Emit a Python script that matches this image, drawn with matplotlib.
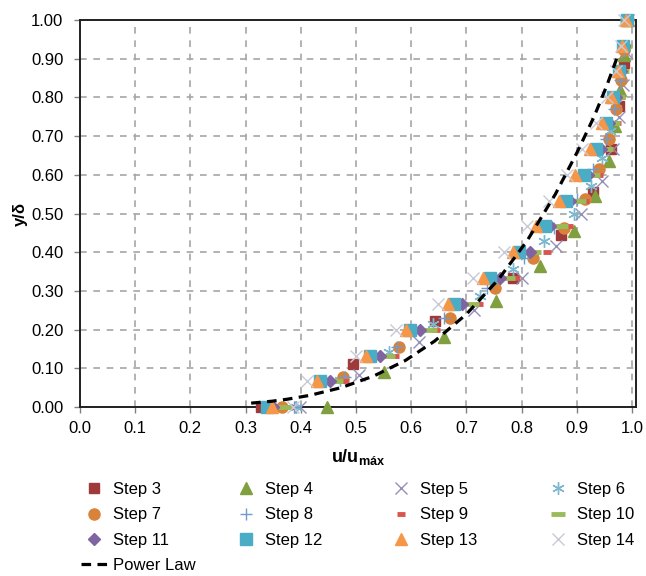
import matplotlib
matplotlib.use("Agg")
import matplotlib.pyplot as plt

plt.rcParams['font.family'] = ['Liberation Sans', 'DejaVu Sans']
plt.rcParams['mathtext.fontset'] = 'custom'
plt.rcParams['mathtext.rm'] = 'Liberation Sans'
plt.rcParams['mathtext.bf'] = 'Liberation Sans:bold'

# velocity profiles u/umax against y/delta for each step
y3 = [0, 0.111, 0.222, 0.333, 0.444, 0.556, 0.667, 0.778, 0.889, 1.0]
u3 = [0.328, 0.494, 0.643, 0.785, 0.872, 0.929, 0.962, 0.976, 0.985, 0.990]

y4 = [0, 0.091, 0.182, 0.273, 0.364, 0.455, 0.545, 0.636, 0.727, 0.818, 0.909, 1.0]
u4 = [0.447, 0.551, 0.660, 0.753, 0.834, 0.894, 0.933, 0.958, 0.969, 0.978, 0.986, 0.992]

y5 = [0, 0.083, 0.167, 0.25, 0.333, 0.417, 0.5, 0.583, 0.667, 0.75, 0.833, 0.917, 1.0]
u5 = [0.398, 0.506, 0.614, 0.713, 0.800, 0.863, 0.908, 0.945, 0.965, 0.976, 0.983, 0.988, 0.992]

y6 = [0, 0.071, 0.143, 0.214, 0.286, 0.357, 0.429, 0.5, 0.571, 0.643, 0.714, 0.786, 0.857, 0.929, 1.0]
u6 = [0.392, 0.470, 0.560, 0.640, 0.725, 0.785, 0.840, 0.895, 0.925, 0.946, 0.960, 0.971, 0.980, 0.986, 0.990]

y7 = [0, 0.077, 0.154, 0.231, 0.308, 0.385, 0.462, 0.538, 0.615, 0.692, 0.769, 0.846, 0.923, 1.0]
u7 = [0.366, 0.477, 0.578, 0.670, 0.752, 0.820, 0.876, 0.915, 0.940, 0.958, 0.971, 0.980, 0.986, 0.990]

y8 = [0, 0.077, 0.154, 0.231, 0.308, 0.385, 0.462, 0.538, 0.615, 0.692, 0.769, 0.846, 0.923, 1.0]
u8 = [0.388, 0.480, 0.575, 0.660, 0.737, 0.804, 0.858, 0.900, 0.930, 0.952, 0.968, 0.978, 0.985, 0.990]

y15 = [0, 0.067, 0.133, 0.2, 0.267, 0.333, 0.4, 0.467, 0.533, 0.6, 0.667, 0.733, 0.8, 0.867, 0.933, 1.0]
u9 = [0.380, 0.480, 0.570, 0.645, 0.722, 0.790, 0.845, 0.886, 0.915, 0.940, 0.960, 0.972, 0.980, 0.985, 0.990, 0.994]
u10 = [0.372, 0.463, 0.557, 0.633, 0.710, 0.775, 0.822, 0.872, 0.903, 0.930, 0.952, 0.966, 0.975, 0.982, 0.987, 0.991]
u11 = [0.350, 0.452, 0.543, 0.615, 0.692, 0.760, 0.815, 0.852, 0.888, 0.920, 0.943, 0.959, 0.970, 0.979, 0.985, 0.990]
u12 = [0.339, 0.435, 0.525, 0.598, 0.677, 0.742, 0.796, 0.843, 0.881, 0.912, 0.935, 0.953, 0.966, 0.977, 0.984, 0.990]
u13 = [0.348, 0.430, 0.518, 0.590, 0.667, 0.730, 0.784, 0.825, 0.867, 0.897, 0.924, 0.946, 0.962, 0.975, 0.982, 0.988]
u14 = [0.386, 0.412, 0.500, 0.572, 0.648, 0.712, 0.768, 0.810, 0.850, 0.882, 0.910, 0.934, 0.954, 0.970, 0.979, 0.986]

# power-law reference profile
y_pl = [0.01, 0.015, 0.02, 0.03, 0.05, 0.08, 0.12, 0.17, 0.24, 0.33, 0.43, 0.55, 0.66, 0.75, 0.83, 0.90]
u_pl = [0.310, 0.348, 0.375, 0.416, 0.473, 0.532, 0.589, 0.642, 0.700, 0.758, 0.810, 0.861, 0.901, 0.931, 0.954, 0.972]

series = [
    ("Step 3", u3, y3, dict(marker='s', color='#A03A3A', ms=7.5, ls='none')),
    ("Step 4", u4, y4, dict(marker='^', color='#80A040', ms=8.5, ls='none')),
    ("Step 5", u5, y5, dict(marker='x', color='#9490B8', ms=8, mew=1.0, ls='none')),
    ("Step 6", u6, y6, dict(marker=(6, 2, 0), color='#7DB8CE', ms=9, mew=1.0, ls='none')),
    ("Step 7", u7, y7, dict(marker='o', color='#D9823A', ms=8, ls='none')),
    ("Step 8", u8, y8, dict(marker='+', color='#6E9BD0', ms=9, mew=1.0, ls='none')),
    ("Step 9", u9, y15, dict(marker='_', color='#D9534F', ms=6, mew=3.5, ls='none')),
    ("Step 10", u10, y15, dict(marker='_', color='#9BBB59', ms=10, mew=3.5, ls='none')),
    ("Step 11", u11, y15, dict(marker='D', color='#8064A2', ms=6, ls='none')),
    ("Step 12", u12, y15, dict(marker='s', color='#4BACC6', ms=8, ls='none')),
    ("Step 13", u13, y15, dict(marker='^', color='#F79646', ms=9, ls='none')),
    ("Step 14", u14, y15, dict(marker='x', color='#C8CAD6', ms=8, mew=1.0, ls='none')),
]

fig = plt.figure(figsize=(6.46, 5.76), dpi=100)
ax = fig.add_axes([80 / 646, 1 - 407 / 576, 556 / 646, 387 / 576])

handles = {}
for name, u, y, style in series:
    h, = ax.plot(u, y, clip_on=False, zorder=3, **style)
    handles[name] = h

pl, = ax.plot(u_pl, y_pl, color='black', lw=2.3, ls=(0, (3, 2)), zorder=4)
handles["Power Law"] = pl

ax.set_xlim(0, 1.007)
ax.set_ylim(0, 1.0)
ax.set_xticks([i / 10 for i in range(11)])
ax.set_yticks([i / 10 for i in range(11)])
ax.set_xticklabels([f"{i / 10:.1f}" for i in range(11)])
ax.set_yticklabels([f"{i / 10:.2f}" for i in range(11)])
ax.tick_params(labelsize=12, length=4, width=1, color='#808080')
ax.tick_params(axis='y', pad=8)
ax.tick_params(axis='x', pad=6)

ax.grid(True, color='#A6A6A6', lw=1.2, ls=(0, (4, 4)), zorder=0)
for side in ['top', 'right', 'bottom', 'left']:
    ax.spines[side].set_color('#202020')
    ax.spines[side].set_linewidth(1.4)

ax.set_xlabel(r'$\mathbf{u/u}_{\mathbf{máx}}$', fontsize=13, labelpad=8)
ax.set_ylabel('y/δ', fontsize=12, fontweight='bold', labelpad=2)

# legend laid out row by row in four columns
columns = [
    ["Step 3", "Step 7", "Step 11", "Power Law"],
    ["Step 4", "Step 8", "Step 12"],
    ["Step 5", "Step 9", "Step 13"],
    ["Step 6", "Step 10", "Step 14"],
]
col_x = [81, 233, 388, 545]
for names, x0 in zip(columns, col_x):
    fig.legend([handles[n] for n in names], names, loc='upper left',
               bbox_to_anchor=(x0 / 646, 1 - 482 / 576), frameon=False,
               fontsize=12, handlelength=1.6, handletextpad=0.3,
               labelspacing=0.62, borderpad=0, borderaxespad=0,
               numpoints=1)

fig.savefig("out.png", dpi=100)
